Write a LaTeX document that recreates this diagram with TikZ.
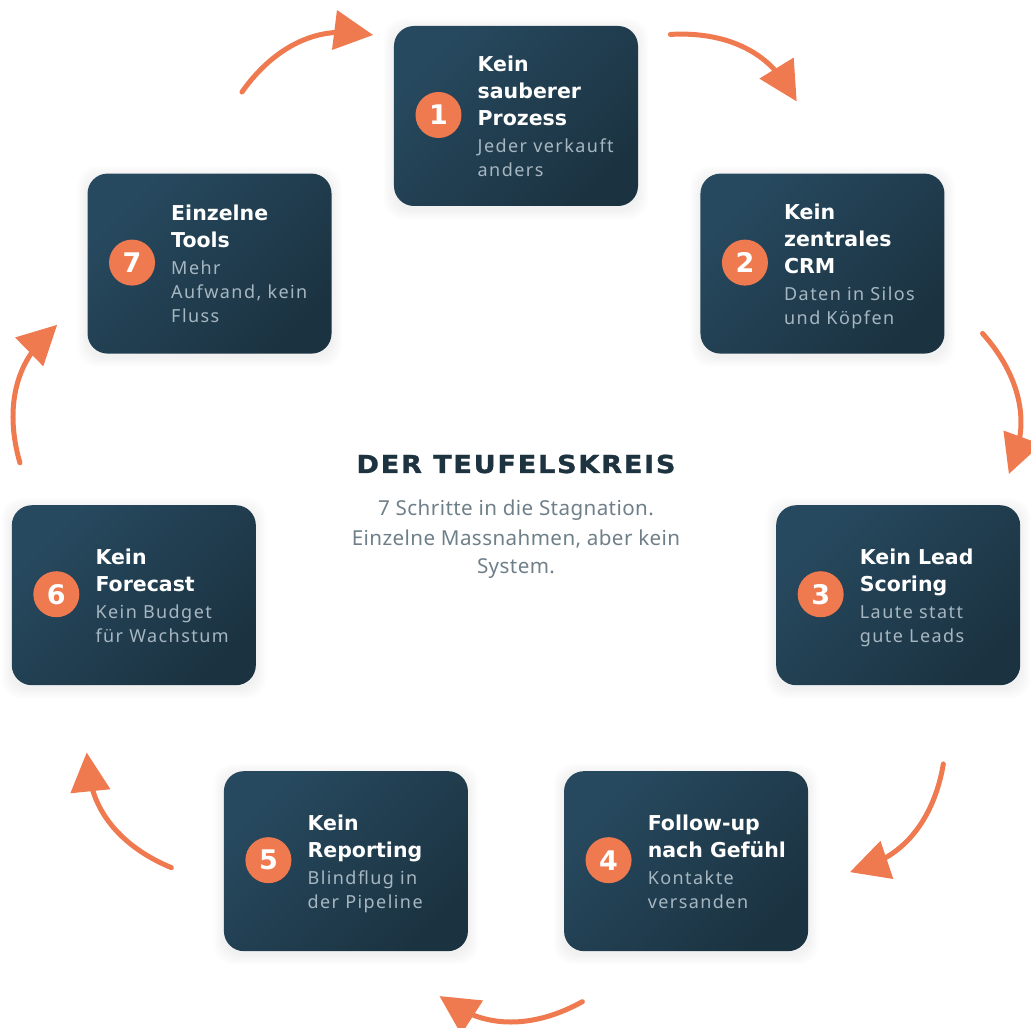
\documentclass[tikz,border=0pt]{standalone}
\usepackage{fontspec}
\setmainfont{Noto Sans}
\newfontfamily\cardtitlefont{DejaVu Sans}
\newfontfamily\bigtitlefont[LetterSpace=7,FakeStretch=1.1,FakeBold=1.2]{DejaVu Sans}
\newfontfamily\cardbodyfont[LetterSpace=8]{Noto Sans}
\newfontfamily\subfont[LetterSpace=2]{Noto Sans}
\usetikzlibrary{arrows.meta,calc}

\definecolor{accent}{HTML}{F07A50}
\definecolor{cardA}{HTML}{27495F}
\definecolor{cardB}{HTML}{1B3341}
\definecolor{titlecol}{HTML}{1E3340}
\definecolor{subcol}{HTML}{6F7F89}
\definecolor{bodycol}{HTML}{A7B7C2}

\tikzset{
  card/.style={rounded corners=20pt, minimum width=244pt, minimum height=180pt,
    inner sep=0pt, top color=cardA, bottom color=cardB, shading angle=45},
  numcirc/.style={circle, fill=accent, minimum size=46pt, inner sep=0pt, text=white,
    font=\cardtitlefont\bfseries\fontsize{27}{27}\selectfont},
  titletxt/.style={anchor=base west, inner sep=0pt, text=white,
    font=\cardtitlefont\bfseries\fontsize{20.5}{24}\selectfont},
  bodytxt/.style={anchor=base west, inner sep=0pt, text=bodycol,
    font=\cardbodyfont\fontsize{18}{22}\selectfont},
  subtxt/.style={anchor=base, inner sep=0pt, text=subcol,
    font=\subfont\fontsize{20.6}{24}\selectfont},
  cycleshaft/.style={draw=accent, line width=5pt, line cap=round},
  cyclehead/.style={fill=accent},
}

% #1 name, #2 angle, #3 number, #4 number of title lines, #5 title lines,
% #6 number of body lines, #7 body lines
\newcommand\stepcard[7]{%
  \coordinate (#1-c) at (#2:392);
  \foreach \s in {1,...,7}{%
    \fill[black, opacity=0.009, rounded corners=20pt]
      ($(#1-c)+(-122-1.5*\s,-90-1.5*\s-3)$) rectangle ($(#1-c)+(122+1.5*\s,90+1.5*\s-3)$);}
  \node[card] (#1) at (#1-c) {};
  \node[numcirc] (#1-n) at ($(#1-c)+(-77.5,1)$) {#3};
  \pgfmathsetmacro\firsty{(27*#4+24*(#6-1))/2-8}
  \foreach \t [count=\i] in {#5}{%
    \node[titletxt] (#1-t\i) at ($(#1-c)+(-38.5,\firsty-27*\i+27)$) {\t};}
  \foreach \t [count=\i] in {#7}{%
    \node[bodytxt] (#1-b\i) at ($(#1-c)+(-38.5,\firsty-27*#4-24*\i+24)$) {\t};}
}

\begin{document}
\begin{tikzpicture}[x=1pt,y=1pt]
  \useasboundingbox (-516,-520) rectangle (515,508);

  % cycle arrows (same arrow rotated around the centre)
  \foreach \k in {0,...,6}{%
    \begin{scope}[rotate={-51.4286*\k}]
      \coordinate (a\k-s) at (-274,416);
      \coordinate (a\k-c1) at (-251.8,447.6);
      \coordinate (a\k-c2) at (-219.5,472.8);
      \coordinate (a\k-b) at (-181,475.5);
      \coordinate (a\k-h1) at (-179,498);
      \coordinate (a\k-h2) at (-184,458);
      \coordinate (a\k-t) at (-143,473);
      \draw[cycleshaft] (a\k-s) .. controls (a\k-c1) and (a\k-c2) .. (a\k-b);
      \fill[cyclehead] (a\k-h1) -- (a\k-t) -- (a\k-h2) -- cycle;
    \end{scope}}

  \stepcard{s1}{90}{1}{3}{Kein,sauberer,Prozess}{2}{Jeder verkauft,anders}
  \stepcard{s2}{38.5714}{2}{3}{Kein,zentrales,CRM}{2}{Daten in Silos,und Köpfen}
  \stepcard{s3}{-12.8571}{3}{2}{Kein Lead,Scoring}{2}{Laute statt,gute Leads}
  \stepcard{s4}{-64.2857}{4}{2}{Follow-up,nach Gefühl}{2}{Kontakte,versanden}
  \stepcard{s5}{-115.7143}{5}{2}{Kein,Reporting}{2}{Blindflug in,der Pipeline}
  \stepcard{s6}{-167.1429}{6}{2}{Kein,Forecast}{2}{Kein Budget,für Wachstum}
  \stepcard{s7}{141.4286}{7}{2}{Einzelne,Tools}{3}{Mehr,{Aufwand, kein},Fluss}

  \node[anchor=base, inner sep=0pt, text=titlecol,
    font=\bigtitlefont\bfseries\fontsize{24.7}{30}\selectfont] (title) at (0,35) {DER TEUFELSKREIS};
  \node[subtxt] (sub1) at (0,-7) {7 Schritte in die Stagnation.};
  \node[subtxt] (sub2) at (0,-37) {Einzelne Massnahmen, aber kein};
  \node[subtxt] (sub3) at (0,-65) {System.};
\end{tikzpicture}
\end{document}
